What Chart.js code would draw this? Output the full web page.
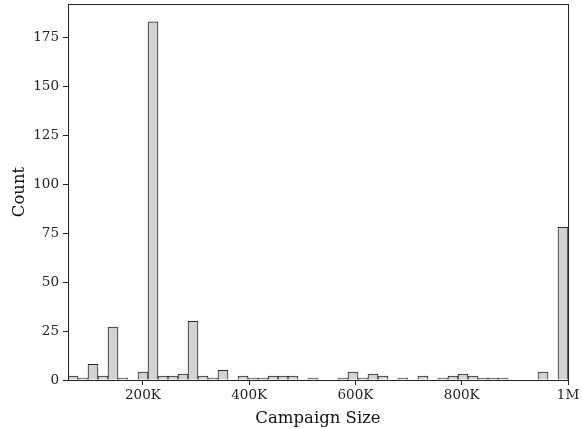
<!DOCTYPE html>
<html>
<head>
<meta charset="utf-8">
<script src="https://cdn.jsdelivr.net/npm/chart.js@4"></script>
<style>
  html, body { margin: 0; padding: 0; background: #ffffff; }
  #wrap { width: 582px; height: 429px; }
</style>
</head>
<body>
<div id="wrap"><canvas id="histChart" width="582" height="429"></canvas></div>
<script>
// histogram of campaign sizes, 50 equal bins
const binStart = 59000;
const binEnd = 1000000;
const counts = [
    2, 1, 8, 2, 27, 1, 0, 4, 183, 2,
    2, 3, 30, 2, 1, 5, 0, 2, 1, 1,
    2, 2, 2, 0, 1, 0, 0, 1, 4, 1,
    3, 2, 0, 1, 0, 2, 0, 1, 2, 3,
    2, 1, 1, 1, 0, 0, 0, 4, 0, 78
];
const xTicks = [200000, 400000, 600000, 800000, 1000000];
const yTicks = [0, 25, 50, 75, 100, 125, 150, 175];

const binWidth = (binEnd - binStart) / counts.length;
const points = counts.map((c, i) => ({
    x: binStart + (i + 0.5) * binWidth,
    y: c
}));

const tickFont = { family: 'DejaVu Serif', size: 13.5 };
const titleFont = { family: 'DejaVu Serif', size: 16.5 };

// matplotlib-style closed frame around the plot area
const frame = {
    id: 'frame',
    afterDraw(chart) {
        const a = chart.chartArea;
        const ctx = chart.ctx;
        ctx.save();
        ctx.strokeStyle = '#222';
        ctx.lineWidth = 1;
        ctx.strokeRect(Math.round(a.left) + 0.5, Math.round(a.top) + 0.5,
            Math.round(a.right - a.left), Math.round(a.bottom - a.top));
        ctx.restore();
    }
};

new Chart(document.getElementById('histChart').getContext('2d'), {
    type: 'bar',
    data: {
        datasets: [{
            label: 'Count',
            data: points,
            backgroundColor: '#d3d3d3',
            borderColor: '#2a2a2a',
            borderWidth: 1,
            barPercentage: 1,
            categoryPercentage: 1
        }]
    },
    plugins: [frame],
    options: {
        responsive: false,
        animation: false,
        layout: { padding: { top: 4, right: 14, left: 0, bottom: 0 } },
        plugins: {
            legend: { display: false },
            tooltip: { enabled: false }
        },
        scales: {
            x: {
                type: 'linear',
                offset: false,
                min: binStart,
                max: binEnd,
                afterBuildTicks: (axis) => { axis.ticks = xTicks.map(v => ({ value: v })); },
                afterFit: (axis) => { axis.height = 49; },
                ticks: {
                    color: '#222',
                    font: tickFont,
                    padding: 2,
                    maxRotation: 0,
                    callback: (v) => v >= 1000000 ? (v / 1000000) + 'M' : (v / 1000) + 'K'
                },
                grid: { drawOnChartArea: false, offset: false, tickLength: 5, color: '#222' },
                border: { color: '#222' },
                title: { display: true, text: 'Campaign Size', color: '#111', font: titleFont, padding: { top: 0, bottom: 0 } }
            },
            y: {
                min: 0,
                max: 183 * 1.05,
                afterBuildTicks: (axis) => { axis.ticks = yTicks.map(v => ({ value: v })); },
                afterFit: (axis) => {
                    axis.width = 68;
                    axis.paddingTop = 0;
                    axis.paddingBottom = 0;
                },
                ticks: { color: '#222', font: tickFont, padding: 4 },
                grid: { drawOnChartArea: false, tickLength: 5, color: '#222' },
                border: { color: '#222' },
                title: { display: true, text: 'Count', color: '#111', font: titleFont, padding: { top: 10, bottom: 6 } }
            }
        }
    }
});
</script>
</body>
</html>
